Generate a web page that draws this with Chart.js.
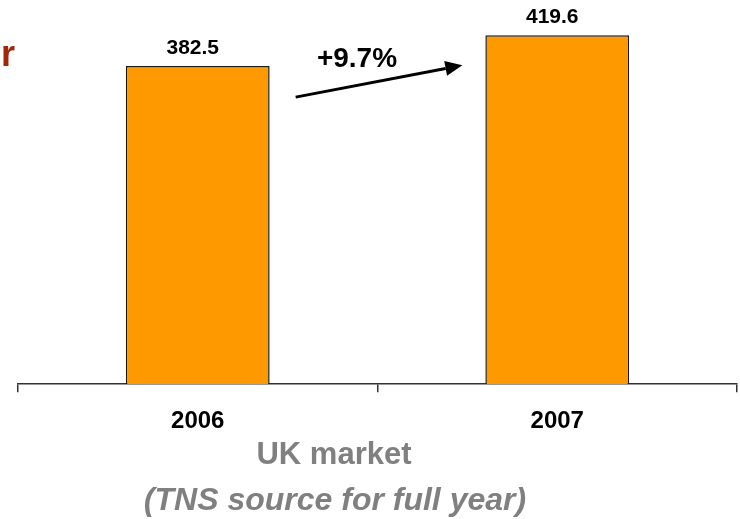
<!DOCTYPE html>
<html lang="en">
<head>
    <meta charset="UTF-8">
    <title>UK market</title>
    <script src="https://cdn.jsdelivr.net/npm/chart.js"></script>
    <style>
        body { margin: 0; background: #fff; }
        #wrap { width: 740px; height: 519px; }
    </style>
</head>
<body>

    <div id="wrap">
        <canvas id="marketChart" width="740" height="519"></canvas>
    </div>

    <script>
        const years = ["2006", "2007"];
        const marketValues = [382.5, 419.6];
        const valueLabels = ["382.5", "419.6"];

        const FONT = "'Liberation Sans', Arial, sans-serif";
        const ORANGE = "#FF9900";
        const AXIS = "#333333";
        const GREY = "#808080";

        // growth between the two years, shown next to the arrow
        const growth = (marketValues[1] / marketValues[0] - 1) * 100;
        const growthText = "+" + growth.toFixed(1) + "%";

        const annotations = {
            id: "annotations",
            afterDatasetsDraw(chart) {
                const ctx = chart.ctx;
                const bars = chart.getDatasetMeta(0).data;

                ctx.save();

                // value on top of each bar
                ctx.fillStyle = "#000";
                ctx.font = "bold 21px " + FONT;
                ctx.textAlign = "center";
                ctx.textBaseline = "alphabetic";
                bars.forEach((bar, i) => {
                    ctx.fillText(valueLabels[i], bar.x - 5, bar.y - 12);
                });

                // growth arrow between the bars
                const b0 = bars[0], b1 = bars[1];
                const sx = b0.x + b0.width / 2 + 26, sy = b0.y + 31;
                const ex = b1.x - b1.width / 2 - 23, ey = b1.y + 30;
                const ang = Math.atan2(ey - sy, ex - sx);
                const head = 17, half = 7.5;
                const bx = ex - head * Math.cos(ang), by = ey - head * Math.sin(ang);

                ctx.strokeStyle = "#000";
                ctx.lineWidth = 3;
                ctx.beginPath();
                ctx.moveTo(sx, sy);
                ctx.lineTo(bx, by);
                ctx.stroke();

                ctx.fillStyle = "#000";
                ctx.beginPath();
                ctx.moveTo(ex, ey);
                ctx.lineTo(bx + half * Math.sin(ang), by - half * Math.cos(ang));
                ctx.lineTo(bx - half * Math.sin(ang), by + half * Math.cos(ang));
                ctx.closePath();
                ctx.fill();

                ctx.font = "bold 28px " + FONT;
                ctx.fillText(growthText, (sx + ex) / 2 - 22, sy - 30);

                // tail of the slide heading at the left edge
                ctx.fillStyle = "#A0280A";
                ctx.font = "bold 36px " + FONT;
                ctx.textAlign = "left";
                ctx.fillText("r", 1, 66);

                // captions under the axis
                ctx.fillStyle = GREY;
                ctx.textAlign = "center";
                ctx.font = "bold 31px " + FONT;
                ctx.fillText("UK market", 334, 464);
                ctx.font = "italic bold 32px " + FONT;
                ctx.fillText("(TNS source for full year)", 335, 510);

                ctx.restore();
            }
        };

        const ctx = document.getElementById("marketChart").getContext("2d");
        const marketChart = new Chart(ctx, {
            type: "bar",
            data: {
                labels: years,
                datasets: [{
                    data: marketValues,
                    backgroundColor: ORANGE,
                    borderColor: "#1a1a1a",
                    borderWidth: 1.5,
                    categoryPercentage: 1,
                    barPercentage: 0.4
                }]
            },
            options: {
                responsive: false,
                animation: false,
                layout: { padding: { left: 18, right: 3, top: 0, bottom: 68 } },
                plugins: {
                    legend: { display: false },
                    tooltip: { enabled: false }
                },
                scales: {
                    x: {
                        grid: {
                            display: true,
                            drawOnChartArea: false,
                            drawTicks: true,
                            tickLength: 8,
                            color: AXIS,
                            lineWidth: 1.5
                        },
                        border: { display: true, color: AXIS, width: 1.5 },
                        ticks: {
                            color: "#000",
                            padding: 15,
                            font: { family: FONT, size: 24, weight: "bold" }
                        }
                    },
                    y: {
                        display: false,
                        min: 0,
                        max: 462
                    }
                }
            },
            plugins: [annotations]
        });
    </script>

</body>
</html>
